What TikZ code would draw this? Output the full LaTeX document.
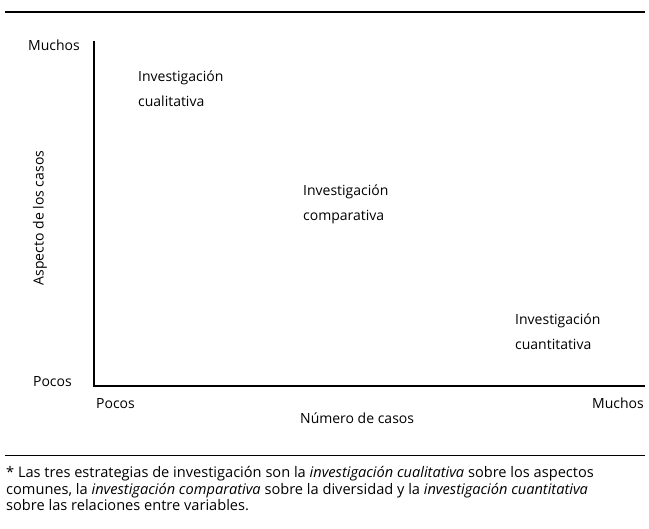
\documentclass[tikz,border=0pt]{standalone}
\usepackage{fontspec}
\setmainfont{Open Sans}
\usetikzlibrary{positioning}
\tikzset{
  axisline/.style={line width=1.6pt, line join=miter},
  pagerule/.style={line width=1.2pt},
  endlabel/.style={inner sep=0pt, font=\fontsize{14}{16}\selectfont},
  strategy/.style={inner sep=0pt, align=left, anchor=north west, font=\fontsize{14}{25}\selectfont},
  footnote/.style={inner sep=0pt, align=left, anchor=north west, font=\fontsize{14.6}{16.8}\selectfont},
}

\begin{document}
\begin{tikzpicture}[x=1pt,y=-1pt]
\useasboundingbox (0,0) rectangle (649,529);
% page rules
\coordinate (topruleL) at (5,12);
\coordinate (topruleR) at (645,12);
\coordinate (botruleL) at (5,455);
\coordinate (botruleR) at (645,455);
\draw[pagerule] (topruleL) -- (topruleR);
\draw[pagerule, line width=0.9pt] (botruleL) -- (botruleR);
% axes
\coordinate (ytop) at (94,41);
\coordinate (origin) at (94,386);
\coordinate (xend) at (645,386);
\draw[axisline] (ytop) -- (origin) -- (xend);
\node[endlabel, anchor=base east] (ymax) at (80,51) {Muchos};
\node[endlabel, anchor=base east] (ymin) at (72,387) {Pocos};
\node[endlabel, anchor=base west] (xmin) at (96,409) {Pocos};
\node[endlabel, anchor=base east] (xmax) at (644,409) {Muchos};
\node[endlabel, anchor=base west] (xtitle) at (300,424) {Número de casos};
\node[endlabel, rotate=90] (ytitle) at (40,218) {Aspecto de los casos};
% strategies
\node[strategy] (qual) at (138,71) {Investigación\\cualitativa};
\node[strategy] (comp) at (303,185) {Investigación\\comparativa};
\node[strategy] (quant) at (515,314) {Investigación\\cuantitativa};
% note
\node[footnote] (note) at (6,466) {* Las tres estrategias de investigación son la \textit{investigación cualitativa} sobre los aspectos\\
comunes, la \textit{investigación comparativa} sobre la diversidad y la \textit{investigación cuantitativa}\\
sobre las relaciones entre variables.};
\end{tikzpicture}
\end{document}
